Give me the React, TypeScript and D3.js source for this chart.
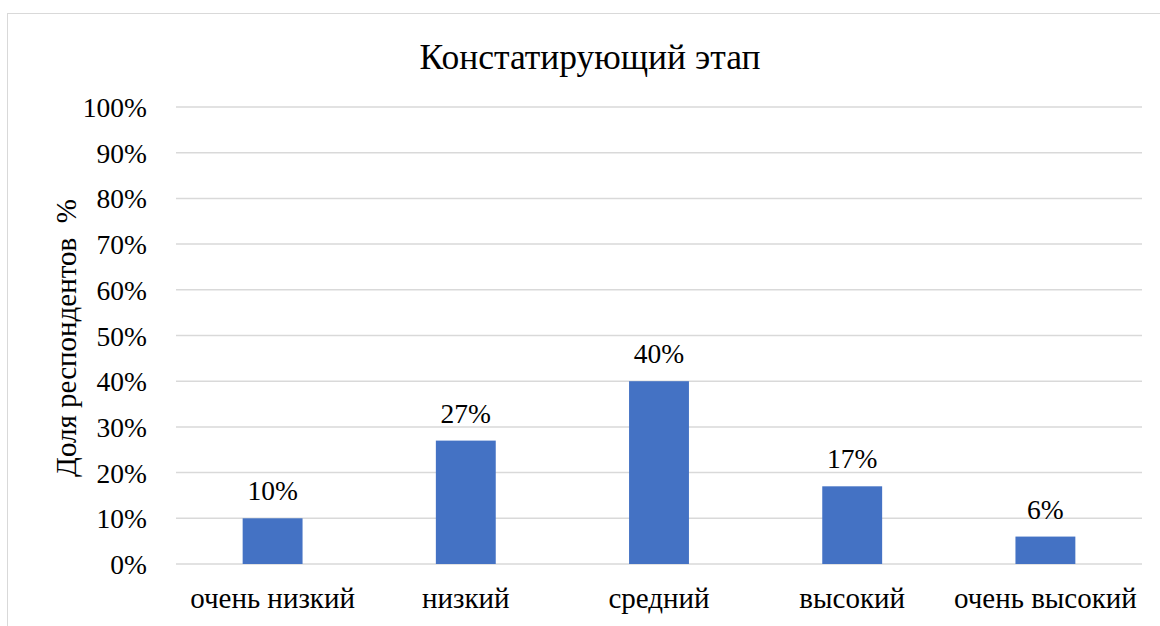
import React from 'react'
import * as d3 from 'd3'

const categories = ['очень низкий', 'низкий', 'средний', 'высокий', 'очень высокий']
const shares = [10, 27, 40, 17, 6]
const yTicks = [0, 10, 20, 30, 40, 50, 60, 70, 80, 90, 100]

const W = 1160
const H = 626
const FONT = 'Liberation Serif'

export default function App() {
    const left = 176, right = 1142, top = 107, bottom = 564
    const x = d3.scaleBand().domain(categories).range([left, right]).paddingInner(0.69).paddingOuter(0.345)
    const y = d3.scaleLinear().domain([0, 100]).range([bottom, top])

    return (
        <svg width={W} height={H} fontFamily={FONT} style={{ position: 'absolute', left: 0, top: 0 }}>
            {/* chart frame, only the left/top edges are in view */}
            <rect x={7.5} y={13.5} width={W + 20} height={H + 20} fill="white" stroke="#d9d9d9" />

            <text x={590} y={69} textAnchor="middle" fontFamily={FONT} fontSize={35.5}>Констатирующий этап</text>

            {yTicks.map(t => (
                <line key={'g' + t} x1={left} x2={right} y1={y(t)} y2={y(t)} stroke="#d9d9d9" strokeWidth={1.5} />
            ))}
            {yTicks.map(t => (
                <text key={'t' + t} x={147} y={y(t) + 10} textAnchor="end" fontFamily={FONT} fontSize={27.5}>{t + '%'}</text>
            ))}

            {shares.map((v, i) => (
                <rect key={'b' + i} x={x(categories[i])} width={x.bandwidth()} y={y(v)} height={bottom - y(v)} fill="#4472c4" />
            ))}
            {shares.map((v, i) => (
                <text key={'v' + i} x={(x(categories[i]) as number) + x.bandwidth() / 2} y={y(v) - 18}
                    textAnchor="middle" fontFamily={FONT} fontSize={27.5}>{v + '%'}</text>
            ))}

            {categories.map(c => (
                <text key={c} x={(x(c) as number) + x.bandwidth() / 2} y={608}
                    textAnchor="middle" fontFamily={FONT} fontSize={29}>{c}</text>
            ))}

            <text transform="translate(76,338) rotate(-90)" textAnchor="middle" fontFamily={FONT} fontSize={29}
                style={{ whiteSpace: 'pre' }}>Доля респондентов  %</text>
        </svg>
    )
}
